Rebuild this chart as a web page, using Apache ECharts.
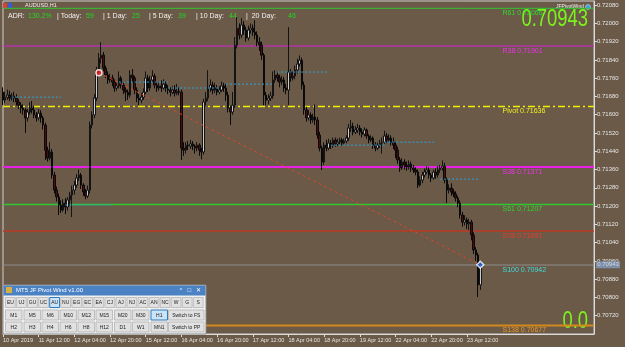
<!DOCTYPE html>
<html><head><meta charset="utf-8">
<script src="https://cdn.jsdelivr.net/npm/echarts/dist/echarts.min.js"></script>
<style>html,body{margin:0;padding:0;background:#6b5a48;}#c{width:625px;height:347px;}</style>
</head><body><div id="c"></div>
<script>
// ---- data ----
const tickLabels = ['10 Apr 2019','11 Apr 12:00','12 Apr 04:00','12 Apr 20:00','15 Apr 12:00','16 Apr 04:00','16 Apr 20:00','17 Apr 12:00','18 Apr 04:00','18 Apr 20:00','19 Apr 12:00','22 Apr 04:00','22 Apr 20:00','23 Apr 12:00'];
const barsPerTick = 16;
const totalSlots = 266;
// [open, close, low, high]
const candles = [
[0.71699,0.71664,0.71642,0.71720],[0.71664,0.71677,0.71650,0.71700],[0.71677,0.71686,0.71665,0.71710],[0.71686,0.71673,0.71660,0.71705],[0.71673,0.71682,0.71662,0.71695],
[0.71682,0.71673,0.71655,0.71700],[0.71673,0.71656,0.71640,0.71690],[0.71656,0.71642,0.71625,0.71668],[0.71642,0.71629,0.71607,0.71655],[0.71629,0.71621,0.71600,0.71645],
[0.71621,0.71586,0.71520,0.71630],[0.71586,0.71612,0.71570,0.71625],[0.71612,0.71629,0.71600,0.71655],[0.71629,0.71621,0.71605,0.71660],[0.71621,0.71599,0.71585,0.71640],
[0.71599,0.71586,0.71570,0.71612],[0.71586,0.71607,0.71575,0.71625],[0.71607,0.71586,0.71565,0.71620],[0.71586,0.71555,0.71535,0.71595],[0.71555,0.71445,0.71402,0.71565],
[0.71445,0.71410,0.71395,0.71460],[0.71410,0.71437,0.71400,0.71480],[0.71437,0.71336,0.71320,0.71450],[0.71336,0.71270,0.71255,0.71350],[0.71270,0.71240,0.71220,0.71285],
[0.71240,0.71205,0.71161,0.71255],[0.71205,0.71183,0.71170,0.71225],[0.71183,0.71213,0.71175,0.71230],[0.71213,0.71196,0.71165,0.71235],[0.71196,0.71227,0.71180,0.71240],
[0.71227,0.71248,0.71200,0.71262],[0.71248,0.71270,0.71152,0.71290],[0.71270,0.71292,0.71250,0.71310],[0.71292,0.71323,0.71280,0.71340],[0.71323,0.71336,0.71310,0.71360],
[0.71336,0.71292,0.71275,0.71345],[0.71292,0.71262,0.71245,0.71300],[0.71262,0.71244,0.71230,0.71275],[0.71244,0.71270,0.71235,0.71290],[0.71270,0.71555,0.71255,0.71570],
[0.71555,0.71599,0.71540,0.71615],[0.71599,0.71673,0.71585,0.71690],[0.71673,0.71796,0.71660,0.71810],[0.71796,0.71848,0.71780,0.71870],[0.71848,0.71861,0.71825,0.71918],
[0.71861,0.71804,0.71790,0.71875],[0.71804,0.71774,0.71760,0.71815],[0.71774,0.71752,0.71735,0.71790],[0.71752,0.71761,0.71740,0.71780],[0.71761,0.71743,0.71725,0.71775],
[0.71743,0.71717,0.71700,0.71755],[0.71717,0.71726,0.71705,0.71740],[0.71726,0.71761,0.71715,0.71790],[0.71761,0.71730,0.71715,0.71770],[0.71730,0.71708,0.71690,0.71745],
[0.71708,0.71699,0.71660,0.71720],[0.71699,0.71686,0.71665,0.71710],[0.71686,0.71774,0.71675,0.71795],[0.71774,0.71761,0.71740,0.71800],[0.71761,0.71708,0.71690,0.71770],
[0.71708,0.71673,0.71655,0.71720],[0.71673,0.71664,0.71642,0.71690],[0.71664,0.71677,0.71650,0.71695],[0.71677,0.71699,0.71665,0.71715],[0.71699,0.71761,0.71690,0.71790],
[0.71761,0.71717,0.71700,0.71775],[0.71717,0.71752,0.71705,0.71770],[0.71752,0.71769,0.71740,0.71795],[0.71769,0.71730,0.71715,0.71780],[0.71730,0.71717,0.71700,0.71745],
[0.71717,0.71726,0.71705,0.71740],[0.71726,0.71717,0.71700,0.71750],[0.71717,0.71734,0.71710,0.71755],[0.71734,0.71717,0.71700,0.71745],[0.71717,0.71708,0.71690,0.71730],
[0.71708,0.71699,0.71680,0.71720],[0.71699,0.71708,0.71690,0.71725],[0.71708,0.71695,0.71680,0.71730],[0.71695,0.71703,0.71685,0.71735],[0.71703,0.71699,0.71685,0.71720],
[0.71699,0.71454,0.71402,0.71710],[0.71454,0.71445,0.71420,0.71480],[0.71445,0.71467,0.71430,0.71480],[0.71467,0.71463,0.71445,0.71485],[0.71463,0.71472,0.71450,0.71490],
[0.71472,0.71463,0.71445,0.71485],[0.71463,0.71454,0.71430,0.71470],[0.71454,0.71467,0.71440,0.71480],[0.71467,0.71445,0.71420,0.71475],[0.71445,0.71437,0.71405,0.71455],
[0.71437,0.71656,0.71425,0.71670],[0.71656,0.71673,0.71640,0.71700],[0.71673,0.71717,0.71660,0.71795],[0.71717,0.71730,0.71700,0.71755],[0.71730,0.71708,0.71690,0.71745],
[0.71708,0.71717,0.71695,0.71740],[0.71717,0.71699,0.71685,0.71730],[0.71699,0.71708,0.71690,0.71725],[0.71708,0.71726,0.71700,0.71745],[0.71726,0.71717,0.71700,0.71740],
[0.71717,0.71686,0.71660,0.71735],[0.71686,0.71629,0.71610,0.71700],[0.71629,0.71612,0.71555,0.71640],[0.71612,0.71642,0.71600,0.71700],[0.71642,0.71905,0.71630,0.71940],
[0.71905,0.71979,0.71890,0.72028],[0.71979,0.71949,0.71930,0.72000],[0.71949,0.71993,0.71935,0.72023],[0.71993,0.71971,0.71950,0.72010],[0.71971,0.71936,0.71920,0.71985],
[0.71936,0.71971,0.71925,0.71990],[0.71971,0.71979,0.71955,0.72000],[0.71979,0.71962,0.71945,0.71995],[0.71962,0.71949,0.71930,0.72014],[0.71949,0.71918,0.71900,0.71965],
[0.71918,0.71905,0.71880,0.71940],[0.71905,0.71861,0.71840,0.71920],[0.71861,0.71686,0.71642,0.71870],[0.71686,0.71664,0.71642,0.71700],[0.71664,0.71673,0.71645,0.71690],
[0.71673,0.71682,0.71660,0.71700],[0.71682,0.71752,0.71670,0.71790],[0.71752,0.71774,0.71740,0.71795],[0.71774,0.71761,0.71745,0.71790],[0.71761,0.71743,0.71720,0.71775],
[0.71743,0.71752,0.71730,0.71770],[0.71752,0.71717,0.71700,0.71765],[0.71717,0.71708,0.71690,0.71735],[0.71708,0.71787,0.71642,0.71984],[0.71787,0.71761,0.71745,0.71800],
[0.71761,0.71769,0.71750,0.71790],[0.71769,0.71796,0.71755,0.71815],[0.71796,0.71822,0.71780,0.71845],[0.71822,0.71839,0.71810,0.71860],[0.71839,0.71730,0.71710,0.71850],
[0.71730,0.71621,0.71600,0.71745],[0.71621,0.71586,0.71570,0.71635],[0.71586,0.71599,0.71575,0.71620],[0.71599,0.71577,0.71560,0.71610],[0.71577,0.71590,0.71565,0.71605],
[0.71590,0.71577,0.71555,0.71645],[0.71577,0.71511,0.71495,0.71590],[0.71511,0.71454,0.71440,0.71525],[0.71454,0.71393,0.71358,0.71465],[0.71393,0.71467,0.71380,0.71480],
[0.71467,0.71454,0.71440,0.71490],[0.71454,0.71476,0.71445,0.71495],[0.71476,0.71467,0.71450,0.71490],[0.71467,0.71489,0.71455,0.71500],[0.71489,0.71472,0.71460,0.71500],
[0.71472,0.71480,0.71462,0.71495],[0.71480,0.71489,0.71470,0.71500],[0.71489,0.71476,0.71465,0.71498],[0.71476,0.71485,0.71468,0.71495],[0.71485,0.71498,0.71475,0.71510],
[0.71498,0.71542,0.71485,0.71560],[0.71542,0.71550,0.71525,0.71577],[0.71550,0.71524,0.71510,0.71565],[0.71524,0.71533,0.71515,0.71550],[0.71533,0.71542,0.71520,0.71560],
[0.71542,0.71524,0.71510,0.71555],[0.71524,0.71515,0.71500,0.71540],[0.71515,0.71533,0.71505,0.71545],[0.71533,0.71507,0.71495,0.71540],[0.71507,0.71489,0.71475,0.71515],
[0.71489,0.71498,0.71480,0.71510],[0.71498,0.71467,0.71450,0.71505],[0.71467,0.71454,0.71440,0.71480],[0.71454,0.71467,0.71445,0.71478],[0.71467,0.71476,0.71455,0.71490],
[0.71476,0.71480,0.71430,0.71500],[0.71480,0.71507,0.71470,0.71530],[0.71507,0.71489,0.71475,0.71520],[0.71489,0.71498,0.71480,0.71515],[0.71498,0.71480,0.71465,0.71510],
[0.71480,0.71467,0.71450,0.71500],[0.71467,0.71445,0.71410,0.71480],[0.71445,0.71402,0.71385,0.71460],[0.71402,0.71367,0.71350,0.71415],[0.71367,0.71393,0.71358,0.71410],
[0.71393,0.71380,0.71360,0.71405],[0.71380,0.71371,0.71355,0.71395],[0.71371,0.71384,0.71360,0.71400],[0.71384,0.71367,0.71350,0.71395],[0.71367,0.71358,0.71345,0.71380],
[0.71358,0.71349,0.71335,0.71370],[0.71349,0.71292,0.71279,0.71360],[0.71292,0.71314,0.71285,0.71330],[0.71314,0.71336,0.71300,0.71350],[0.71336,0.71349,0.71325,0.71365],
[0.71349,0.71358,0.71340,0.71375],[0.71358,0.71336,0.71320,0.71370],[0.71336,0.71323,0.71305,0.71345],[0.71323,0.71349,0.71315,0.71360],[0.71349,0.71336,0.71320,0.71365],
[0.71336,0.71358,0.71325,0.71375],[0.71358,0.71367,0.71345,0.71380],[0.71367,0.71375,0.71355,0.71400],[0.71375,0.71314,0.71300,0.71390],[0.71314,0.71270,0.71213,0.71325],
[0.71270,0.71279,0.71255,0.71295],[0.71279,0.71262,0.71245,0.71300],[0.71262,0.71253,0.71240,0.71275],[0.71253,0.71235,0.71220,0.71265],[0.71235,0.71213,0.71195,0.71245],
[0.71213,0.71161,0.71145,0.71225],[0.71161,0.71130,0.71110,0.71175],[0.71130,0.71139,0.71115,0.71160],[0.71139,0.71122,0.71100,0.71150],[0.71122,0.71130,0.71095,0.71145],
[0.71130,0.71073,0.71050,0.71140],[0.71073,0.71008,0.70990,0.71085],[0.71008,0.70986,0.70960,0.71020],[0.70986,0.70855,0.70802,0.70995],[0.70855,0.70943,0.70833,0.70960]
];
const pivotNames  = ['R61','R38','Pivot','S38','S61','S78','S100','S138'];
const pivotValues = [0.72066,0.71901,0.71636,0.71371,0.71207,0.71091,0.70942,0.70677];
const pivotLineColors  = ['#30c830','#d820d8','#f0f000','#e820e8','#30c830','#b83a24','#8e8e8e','#d4891c'];
const pivotLabelColors = ['#30d830','#f030f0','#f0f020','#f030f0','#30d830','#f03a2a','#40dcdc','#f0981e'];
const pivotLineWidths  = [1,1,1.5,2,1.5,1.5,1,2];
const pivotLabelSlot = 224;
const currentPrice = 0.70943;
const segStart = [4,52,74,100,123,28,147,171,196];
const segEnd   = [26,74,97,121,146,49,172,194,213];
const segPrice = [0.71677,0.71743,0.71717,0.71734,0.71787,0.71205,0.71467,0.71480,0.71318];
const trendStart = [43, 0.71784];
const trendEnd = [214, 0.70943];
const adrLabels = ['ADR:','| Today:','| 1 Day:','| 5 Day:','| 10 Day:','|  20 Day:'];
const adrValues = ['130.2%','59','25','39','44','46'];
const symButtons = ['EU','UJ','GU','UC','AU','NU','EG','EC','EA','CJ','AJ','NJ','AC','AN','NC','W','G','S'];
const tfRow1 = ['M1','M5','M6','M10','M12','M15','M20','M30','H1','Switch to FS'];
const tfRow2 = ['H2','H3','H4','H6','H8','H12','D1','W1','MN1','Switch to PP'];

// ---- build ----
const FONT = '"Liberation Sans", Arial, sans-serif';
const categories = [];
for (let i = 0; i < totalSlots; i++) categories.push(String(i));
const isTick = (idx) => idx % barsPerTick === 0 && (idx / barsPerTick) < tickLabels.length;

const series = [];
pivotValues.forEach((v, i) => {
  series.push({ type: 'line', symbol: 'none', silent: true, animation: false, z: 1,
    lineStyle: { color: pivotLineColors[i], width: pivotLineWidths[i], type: pivotNames[i] === 'Pivot' ? [7, 3, 2, 3] : 'solid' },
    data: [[0, v], [totalSlots - 1, v]] });
});
series.push({
  type: 'candlestick', data: candles, barWidth: 2, z: 3,
  itemStyle: { color: '#cccccc', color0: '#520a0a', borderColor: '#141414', borderColor0: '#0a0a0a', borderWidth: 1 }
});
segStart.forEach((s, i) => {
  series.push({ type: 'line', symbol: 'none', silent: true, animation: false, z: 4,
    lineStyle: { color: '#2aa4dc', width: 1, type: [2, 2] },
    data: [[s, segPrice[i]], [segEnd[i], segPrice[i]]] });
});
series.push({ type: 'line', symbol: 'none', silent: true, animation: false, z: 4,
  lineStyle: { color: '#d8482a', width: 1, type: [3, 3] },
  data: [trendStart, trendEnd] });
series.push({ type: 'scatter', silent: true, animation: false, symbolSize: 6, z: 5,
  data: [
    { value: trendStart, itemStyle: { color: '#e82020', borderColor: '#ffffff', borderWidth: 1.5 } },
    { value: trendEnd, symbol: 'diamond', symbolSize: 7, itemStyle: { color: '#2266dd', borderColor: '#ffffff', borderWidth: 1.5 } }
  ] });
series.push({ type: 'scatter', silent: true, animation: false, symbolSize: 0, z: 6,
  itemStyle: { opacity: 0 },
  data: pivotValues.map((v, i) => ({
    value: [pivotLabelSlot, v],
    label: { show: true, position: [0, 1.5], align: 'left', verticalAlign: 'top', opacity: 1,
      textBorderWidth: 0, textBorderColor: 'transparent', textShadowBlur: 0,
      formatter: pivotNames[i] + ' ' + v.toFixed(5), color: pivotLabelColors[i], fontSize: 7, fontFamily: FONT }
  })) });

// graphics
const g = [];
const adrX = [8, 57, 103, 149, 196, 246];
const adrVX = [28, 86, 132, 178, 229, 288];
adrLabels.forEach((t, i) => {
  g.push({ type: 'text', x: adrX[i], y: 16, style: { text: t, fill: '#f2f2f2', fontSize: 7, fontFamily: FONT, verticalAlign: 'middle' } });
  g.push({ type: 'text', x: adrVX[i], y: 16, style: { text: adrValues[i], fill: '#22d822', fontSize: 7, fontFamily: FONT, verticalAlign: 'middle' } });
});
g.push({ type: 'rect', shape: { x: 3, y: 3, width: 4, height: 5 }, style: { fill: '#d84040' } });
g.push({ type: 'rect', shape: { x: 8, y: 3, width: 4, height: 5 }, style: { fill: '#3a5ad0' } });
g.push({ type: 'text', x: 25, y: 5.5, style: { text: 'AUDUSD,H1', fill: '#f0f0f0', fontSize: 5.5, fontFamily: FONT, verticalAlign: 'middle' } });
g.push({ type: 'text', x: 584, y: 7, style: { text: 'JFPivotWind', fill: '#f0f0f0', fontSize: 5, fontFamily: FONT, align: 'right', verticalAlign: 'middle' } });
g.push({ type: 'circle', shape: { cx: 588, cy: 7, r: 2.5 }, style: { fill: '#3aa0e0', stroke: '#f0f0f0', lineWidth: 0.5 } });
g.push({ type: 'text', x: 588, y: 19.5, scaleX: 0.8, style: { text: currentPrice.toFixed(5), fill: '#7cf41c', fontSize: 23, fontFamily: FONT, align: 'right', verticalAlign: 'middle' } });
g.push({ type: 'text', x: 588, y: 321.5, scaleX: 0.8, style: { text: '0.0', fill: '#7cf41c', fontSize: 23, fontFamily: FONT, align: 'right', verticalAlign: 'middle' } });

// panel
const P = { x: 3, y: 285, w: 203, h: 49 };
g.push({ type: 'rect', z: 100, shape: { x: P.x, y: P.y, width: P.w, height: P.h }, style: { fill: '#f0f0f0', stroke: '#8a8a8a', lineWidth: 1 } });
g.push({ type: 'rect', z: 101, shape: { x: P.x + 0.5, y: P.y + 0.5, width: P.w - 1, height: 10 }, style: { fill: '#4a82c4' } });
g.push({ type: 'text', z: 102, x: P.x + 13, y: P.y + 5.5, style: { text: 'MT5 JF Pivot Wind v1.00', fill: '#ffffff', fontSize: 6, fontFamily: FONT, verticalAlign: 'middle' } });
g.push({ type: 'rect', z: 102, shape: { x: P.x + 3, y: P.y + 2, width: 6, height: 6 }, style: { fill: '#d8b040' } });
g.push({ type: 'text', z: 102, x: P.x + P.w - 5, y: P.y + 5.5, style: { text: '^   \u25A1   \u2715', fill: '#ffffff', fontSize: 6, fontFamily: FONT, align: 'right', verticalAlign: 'middle' } });
function button(x, y, w, h, t, hl) {
  g.push({ type: 'rect', z: 101, shape: { x: x, y: y, width: w, height: h }, style: { fill: hl ? '#cce4f7' : '#e1e1e1', stroke: hl ? '#2f7bc0' : '#adadad', lineWidth: hl ? 1 : 0.7 } });
  g.push({ type: 'text', z: 102, x: x + w / 2, y: y + h / 2 + 0.3, style: { text: t, fill: '#1a1a1a', fontSize: 5, fontFamily: FONT, align: 'center', verticalAlign: 'middle' } });
}
symButtons.forEach((t, i) => button(P.x + 2.5 + i * 11.05, P.y + 12.5, 9.8, 10, t, t === 'AU'));
const tfX = [5, 23.5, 41.5, 59.5, 77.5, 95.5, 114, 132, 150.5];
[tfRow1, tfRow2].forEach((row, r) => {
  row.forEach((t, i) => {
    const y = P.y + 25 + r * 12;
    if (i < 9) button(tfX[i] + 0.5, y, 16.5, 10, t, t === 'H1');
    else button(168.5, y, 35.5, 10, t, false);
  });
});

const chart = echarts.init(document.getElementById('c'), null, { renderer: 'canvas' });
chart.setOption({
  animation: false,
  backgroundColor: '#6b5a48',
  grid: { left: 3, right: 31, top: 1, bottom: 13, show: true, borderColor: '#cfcfcf', borderWidth: 1, backgroundColor: 'transparent' },
  xAxis: {
    type: 'category', data: categories, boundaryGap: false,
    axisLine: { show: true, lineStyle: { color: '#dcdcdc', width: 1 } },
    axisTick: { show: true, length: 3, interval: (idx) => isTick(idx), lineStyle: { color: '#dcdcdc' } },
    axisLabel: { interval: (idx) => isTick(idx), formatter: (v, idx) => isTick(idx) ? tickLabels[idx / barsPerTick] : '',
      color: '#e6e6e6', fontSize: 5.5, fontFamily: FONT, align: 'left', margin: 3, hideOverlap: false },
    splitLine: { show: false }
  },
  yAxis: {
    type: 'value', position: 'right', min: 0.7064, max: 0.72098, interval: 0.0008, scale: true,
    axisLine: { show: true, lineStyle: { color: '#dcdcdc', width: 1 } },
    axisTick: { show: true, length: 3, lineStyle: { color: '#dcdcdc' } },
    axisLabel: { color: '#e6e6e6', fontSize: 6, fontFamily: FONT, margin: 3, showMinLabel: false, showMaxLabel: false,
      formatter: (v) => v.toFixed(5) },
    splitLine: { show: false }
  },
  series: series,
  graphic: g
});
const py = chart.convertToPixel({ yAxisIndex: 0 }, currentPrice);
g.push({ type: 'rect', z: 110, shape: { x: 596, y: py - 3.5, width: 24, height: 7 }, style: { fill: '#7d8ea6' } });
g.push({ type: 'text', z: 111, x: 608, y: py, style: { text: currentPrice.toFixed(5), fill: '#cdd8e6', fontSize: 6, fontFamily: FONT, align: 'center', verticalAlign: 'middle' } });
chart.setOption({ graphic: g });
</script>
</body></html>
